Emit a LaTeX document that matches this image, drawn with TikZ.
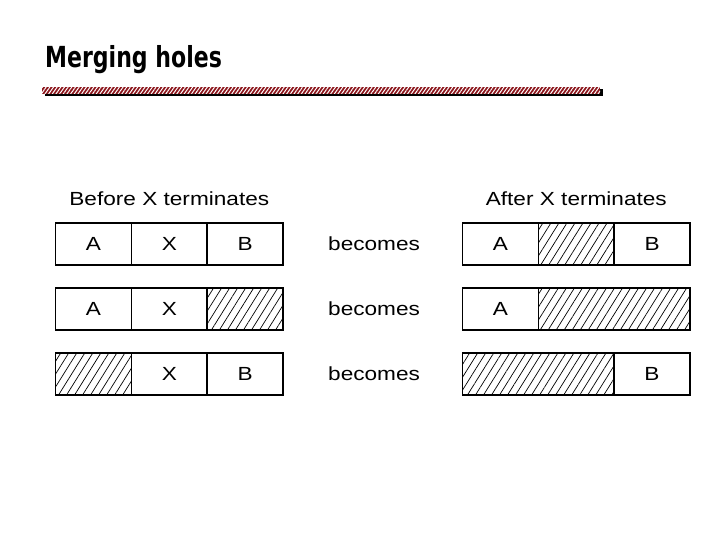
\documentclass[tikz,border=0pt]{standalone}
\usepackage{fontspec}
\setmainfont{Liberation Sans}
\newfontfamily\titlefont{DejaVu Sans}
\usetikzlibrary{positioning,patterns.meta}
\definecolor{barred}{RGB}{140,22,28}
\newcommand{\wide}[1]{\scalebox{1.19}[1]{#1}}

\begin{document}
\begin{tikzpicture}[
x=1pt, y=-1pt,
node distance=0pt,
cell/.style={rectangle,draw,line width=1.5pt,outer sep=0pt,inner sep=0pt,minimum width=75.8pt,minimum height=42pt,font=\fontsize{19}{22}\selectfont},
hole/.style={cell,pattern={Lines[angle=58,distance=6.8pt,line width=0.7pt]}},
bighole/.style={hole,minimum width=151.6pt},
word/.style={inner sep=0pt,font=\fontsize{19}{22}\selectfont}
]
\useasboundingbox (0,0) rectangle (720,540);

% title and bar
\node[anchor=base west,inner sep=0pt] (title) at (45,68) {\titlefont\bfseries\fontsize{29}{32}\selectfont\scalebox{0.76}[1]{Merging holes}};
\fill[black] (45,89) rectangle (603,96);
\fill[barred] (42,87) rectangle (600,94);
\fill[pattern={Lines[angle=55,distance=3pt,line width=1pt]},pattern color=white] (42,87) rectangle (600,94);

% before
\node[cell] (b1a) at (93.5,244) {\wide{A}};
\node[cell] (b1x) [right=of b1a] {\wide{X}};
\node[cell] (b1b) [right=of b1x] {\wide{B}};

\node[cell] (b2a) at (93.5,309) {\wide{A}};
\node[cell] (b2x) [right=of b2a] {\wide{X}};
\node[hole] (b2b) [right=of b2x] {};

\node[hole] (b3a) at (93.5,374) {};
\node[cell] (b3x) [right=of b3a] {\wide{X}};
\node[cell] (b3b) [right=of b3x] {\wide{B}};

\node[word] (before) [above=17pt of b1x] {\wide{Before X terminates}};

% becomes
\node[word] (bec1) [right=45pt of b1b] {\wide{becomes}};
\node[word] (bec2) [right=45pt of b2b] {\wide{becomes}};
\node[word] (bec3) [right=45pt of b3b] {\wide{becomes}};

% after
\node[cell] (a1a) at (500.5,244) {\wide{A}};
\node[hole] (a1x) [right=of a1a] {};
\node[cell] (a1b) [right=of a1x] {\wide{B}};

\node[cell] (a2a) at (500.5,309) {\wide{A}};
\node[bighole] (a2h) [right=of a2a] {};

\node[bighole] (a3h) at (538.3,374) {};
\node[cell] (a3b) [right=of a3h] {\wide{B}};

\node[word] (after) [above=17pt of a1x] {\wide{After X terminates}};

\end{tikzpicture}
\end{document}
